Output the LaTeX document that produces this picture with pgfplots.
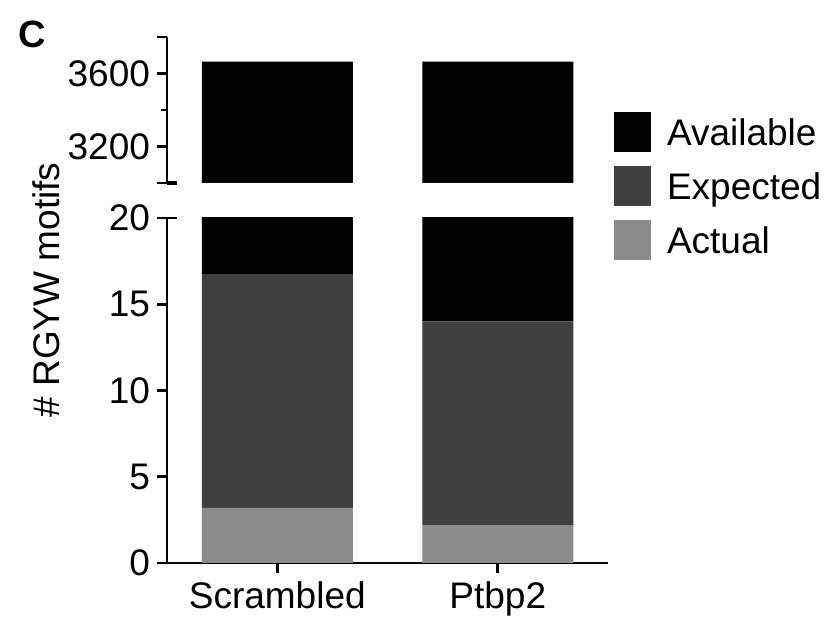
\documentclass[border=0pt]{standalone}
\usepackage{fontspec}
\setmainfont{Liberation Sans}
\usepackage{pgfplots}
\pgfplotsset{compat=1.18}
\definecolor{expc}{RGB}{64,64,64}
\definecolor{actc}{RGB}{140,140,140}
\pgfplotsset{
  common/.style={
    scale only axis, width=220.5pt, xmin=-0.5, xmax=1.5,
    axis y line*=left,
    axis line style={-, line width=1.3pt},
    tick style={line width=1.3pt, black},
    major tick length=5pt, minor tick length=3pt,
    tick align=outside,
    tick label style={font=\fontsize{18.5}{22}\selectfont},
    /pgf/number format/assume math mode=true,
    /pgf/number format/1000 sep={},
    bar width=75.5pt,
    anchor=south west,
    ybar stacked,
  },
  sqleg/.style={legend image code/.code={\fill[##1] (0pt,-8.3pt) rectangle (18.5pt,11.7pt);}},
}
\pgfplotstableread{
x act exp avail
0 3.2 13.55 3648.25
1 2.2 11.8 3651
}\data
\begin{document}
\begin{tikzpicture}
\path[use as bounding box] (0,0) rectangle (414pt,309.5pt);
% lower axis
\begin{axis}[common, at={(83.5pt,28pt)}, height=172.5pt,
  ymin=0, ymax=20, ytick={0,5,10,15,20},
  restrict y to domain*=0:40,
  extra y ticks={20}, extra y tick labels={}, extra y tick style={tick align=inside},
  axis x line*=bottom, xtick={0,1}, xticklabels={Scrambled,Ptbp2},
  x tick label style={yshift=-1pt}]
\addplot[fill=actc, draw=none] table[x=x,y=act] {\data};
\addplot[fill=expc, draw=none] table[x=x,y=exp] {\data};
\addplot[fill=black, draw=none] table[x=x,y=avail] {\data};
\end{axis}
% upper axis
\begin{axis}[common, at={(83.5pt,218pt)}, height=73pt,
  ymin=3000, ymax=3800, ytick={3000,3200,3600,3800}, yticklabels={,3200,3600,},
  minor ytick={3400},
  extra y ticks={3000}, extra y tick labels={}, extra y tick style={tick align=inside, tick style={line width=2pt}},
  hide x axis,
  reverse legend, legend cell align=left,
  legend style={at={(1.0136,0.486)}, anchor=north west, draw=none, fill=none,
    inner sep=0pt, outer sep=0pt, row sep=6.6pt, column sep=0pt,
    font=\fontsize{18.5}{22}\selectfont,
    nodes={inner sep=0pt, text height=13.5pt, text depth=3.9pt},
    /tikz/every odd column/.append style={column sep=8pt}}]
\addplot[fill=actc, draw=none, sqleg] table[x=x,y=act] {\data};
\addplot[fill=expc, draw=none, sqleg] table[x=x,y=exp] {\data};
\addplot[fill=black, draw=none, sqleg] table[x=x,y=avail] {\data};
\legend{Actual,Expected,Available}
\end{axis}
\node[font=\fontsize{19}{22}\selectfont\bfseries] at (16.25pt,292.25pt) {C};
\node[rotate=90, font=\fontsize{18.5}{22}\selectfont] at (23pt,164.5pt) {\# RGYW motifs};
\end{tikzpicture}
\end{document}
